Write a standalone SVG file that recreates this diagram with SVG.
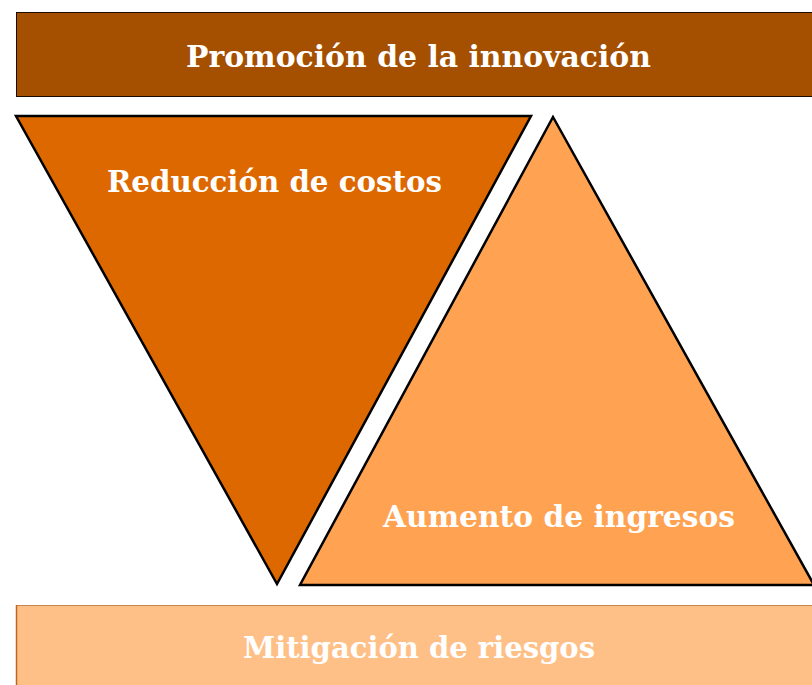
<svg xmlns="http://www.w3.org/2000/svg" width="812" height="685" viewBox="0 0 812 685">
<style>
.t{font-family:"DejaVu Serif","Liberation Serif",serif;font-weight:bold;font-size:30px;fill:#ffffff;text-anchor:middle}
.tri{stroke:#000;stroke-width:2.5;stroke-linejoin:miter}
</style>
<rect width="812" height="685" fill="#ffffff"/>
<g id="promocion">
<rect x="16.5" y="12.5" width="800" height="84" fill="#A54F00" stroke="#1a0c00" stroke-width="1"/>
<text class="t" x="418.5" y="67" textLength="465" lengthAdjust="spacingAndGlyphs">Promoción de la innovación</text>
</g>
<g id="reduccion">
<polygon class="tri" points="16,116 531,116 277,584" fill="#DD6800"/>
<text class="t" x="274.5" y="192" textLength="335" lengthAdjust="spacingAndGlyphs">Reducción de costos</text>
</g>
<g id="aumento">
<polygon class="tri" points="553,117 300,585 814,585" fill="#FFA352"/>
<text class="t" x="559" y="527" textLength="352" lengthAdjust="spacingAndGlyphs">Aumento de ingresos</text>
</g>
<g id="mitigacion">
<rect x="16.5" y="605.5" width="800" height="84" fill="#FFC088" stroke="#C8864E" stroke-width="1"/>
<line x1="16.5" y1="605" x2="16.5" y2="685" stroke="#C0651C" stroke-width="1.5"/>
<text class="t" x="419" y="658" textLength="352" lengthAdjust="spacingAndGlyphs">Mitigación de riesgos</text>
</g>
<g id="connectors"/>
</svg>
